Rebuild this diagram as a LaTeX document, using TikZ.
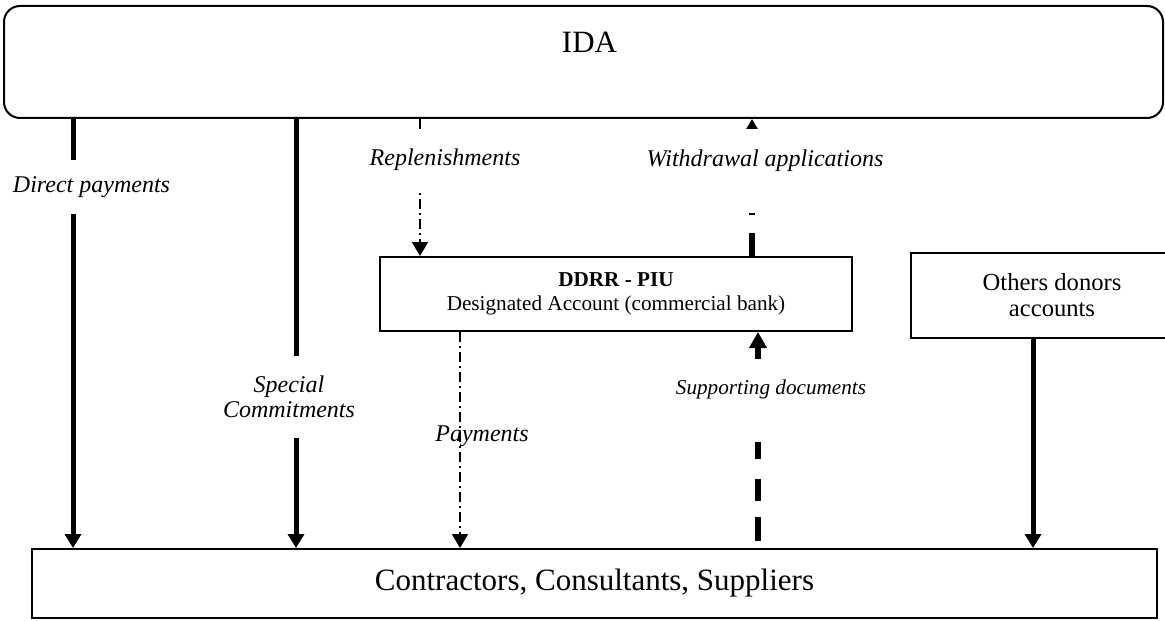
\documentclass[tikz,border=0pt]{standalone}
\usepackage{fontspec}
\setmainfont{Liberation Serif}
\usetikzlibrary{arrows.meta}

\begin{document}
\begin{tikzpicture}[
  x=0.5pt, y=-0.5pt,
  >={Triangle[width=8pt,length=7pt]},
  box/.style={draw,line width=1pt,inner sep=0pt,align=center},
  lbl/.style={fill=white,inner xsep=1pt,align=center,font=\fontsize{12}{12.5}\selectfont\itshape},
  fund/.style={->,line width=2.5pt},
  dotdash/.style={->,line width=1pt,dash pattern=on 5pt off 2pt on 1pt off 2pt},
  docdash/.style={->,line width=3pt,dash pattern=on 10pt off 11pt},
]
  \useasboundingbox (0,0) rectangle (1165,620);

  % boxes
  \node[box,rounded corners=8pt,minimum width=579.5pt,minimum height=56pt] (ida) at (583.5,62) {};
  \node[font=\fontsize{15.5}{18}\selectfont] (idatxt) at (589.5,42.5) {IDA};
  \node[box,minimum width=236pt,minimum height=37pt,font=\fontsize{10.6}{12}\selectfont] (piu) at (616,294) {\textbf{DDRR - PIU}\\Designated Account (commercial bank)};
  \node[box,minimum width=141pt,minimum height=42.5pt,font=\fontsize{12.3}{13}\selectfont] (donors) at (1052,295.5) {Others donors\\accounts};
  \node[box,minimum width=562.5pt,minimum height=34.5pt,font=\fontsize{15.5}{18}\selectfont] (supp) at (594.5,583.5) {Contractors, Consultants, Suppliers};

  % flows
  \foreach \x in {73,296}
    \draw[fund] (ida.south -| \x,0) -- (supp.north -| \x,0);
  \draw[fund] (donors.south -| 1033,0) -- (supp.north -| 1033,0);
  \draw[dotdash] (ida.south -| 420,0) -- (piu.north -| 420,0);
  \draw[dotdash] (piu.south -| 460,0) -- (supp.north -| 460,0);
  \draw[docdash,dash pattern=on 11.5pt off 9pt on 1pt off 60pt,-{Triangle[width=5.5pt,length=5pt]}] (piu.north -| 752,0) -- (ida.south -| 752,0);
  \draw[docdash,dash pattern=on 0pt off 3.5pt on 12pt off 8pt on 11pt off 10pt on 8.5pt off 14pt on 20pt off 1pt,-{Triangle[width=8.5pt,length=8pt]}] (supp.north -| 758,0) -- (piu.south -| 758,0);

  % labels
  \node[lbl,inner ysep=8pt] (dplbl) at (91.5,187) {Direct payments};
  \node[lbl,inner ysep=10pt] (sclbl) at (289,397) {Special\\Commitments};
  \node[lbl,inner ysep=9pt] (replbl) at (445,160) {Replenishments};
  \node[lbl,inner ysep=9pt] (wdlbl) at (765,161) {Withdrawal applications};
  \node[lbl,fill=none] (paylbl) at (482,436) {Payments};
  \node[lbl,inner ysep=10pt,font=\fontsize{10.6}{12}\selectfont\itshape] (sdlbl) at (771,389) {Supporting documents};
\end{tikzpicture}
\end{document}
